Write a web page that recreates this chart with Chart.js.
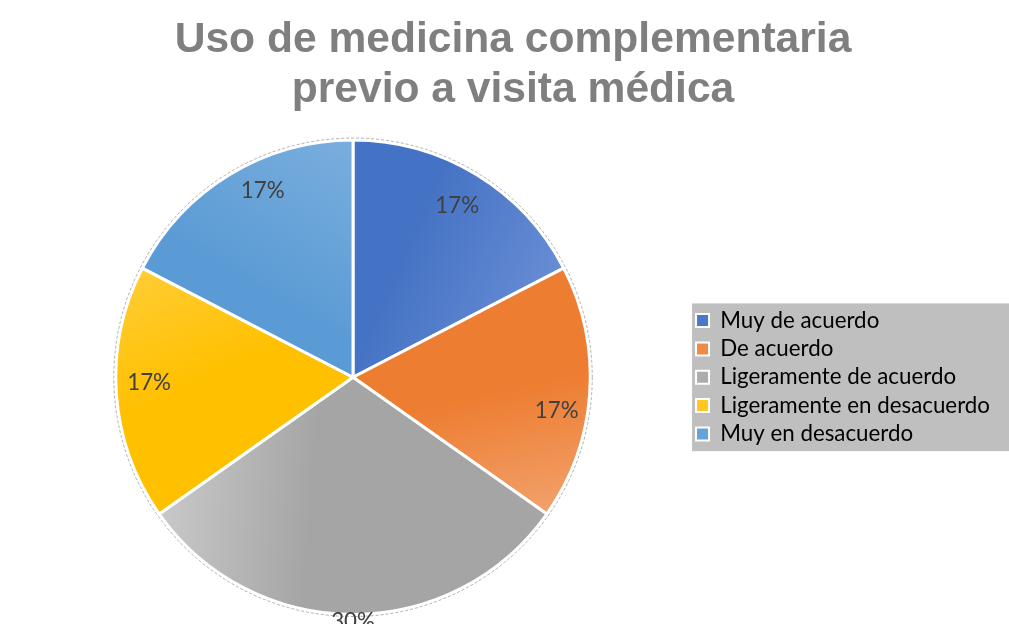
<!DOCTYPE html>
<html>
<head>
<meta charset="utf-8">
<script src="https://cdn.jsdelivr.net/npm/chart.js@4.4.1/dist/chart.umd.min.js"></script>
<style>
  html, body { margin: 0; padding: 0; background: #ffffff; }
  #wrap { width: 1009px; height: 624px; position: relative; }
</style>
</head>
<body>
<div id="wrap"><canvas id="c" width="1009" height="624"></canvas></div>
<script>
// ---- data ----
const titleLines = ['Uso de medicina complementaria', 'previo a visita médica'];
const categories = ['Muy de acuerdo', 'De acuerdo', 'Ligeramente de acuerdo', 'Ligeramente en desacuerdo', 'Muy en desacuerdo'];
const values = [4, 4, 7, 4, 4];

// ---- styles ----
const baseColors  = ['#4472C4', '#ED7D31', '#A5A5A5', '#FFC000', '#5B9BD5'];
const lightColors = ['#6C90D6', '#F2A36F', '#C9C9C9', '#FFCD33', '#78ADDD'];
const legendColors = ['#4C78C8', '#F08A47', '#ADADAD', '#FFC71F', '#66A3D8'];
// gradient endpoints as fractions of radius (from center): [x0,y0,x1,y1]
const gradDirs = [
  [0.25, -0.65, 0.92, -0.35],
  [0.65, 0.05, 0.78, 0.62],
  [-0.18, 0.6, -0.82, 0.55],
  [-0.6, 0.0, -0.82, -0.48],
  [-0.35, -0.35, 0.0, -0.95]
];
// label placement (best-fit style): radius fraction and angular shift in degrees
const labelRadius = [0.845, 0.87, 1.03, 0.86, 0.875];
const labelShift = [0, 5.5, 0, 2.3, 5.5];
const titleShiftX = 5;

function fitSize(text, family, weight, target, probe) {
  const cv = document.createElement('canvas').getContext('2d');
  cv.font = weight + ' ' + probe + 'px ' + family;
  return probe * target / cv.measureText(text).width;
}
const bodyFamily = 'Lato';
const bodySize = fitSize('Ligeramente en desacuerdo', bodyFamily, 'normal', 270, 20);
const titleFamily = '"Liberation Sans", Arial, sans-serif';
const titleSize = fitSize(titleLines[0], titleFamily, 'bold', 677, 40);

function pieGeom(chart) {
  const meta = chart.getDatasetMeta(0);
  const a = meta.data[0];
  if (a && a.outerRadius) return {cx: a.x, cy: a.y, R: a.outerRadius};
  const ca = chart.chartArea;
  return {cx: (ca.left + ca.right) / 2, cy: (ca.top + ca.bottom) / 2, R: Math.min(ca.width, ca.height) / 2};
}

const titleNudge = {
  id: 'titleNudge',
  afterLayout(chart) {
    if (chart.titleBlock) {
      chart.titleBlock.left += titleShiftX;
      chart.titleBlock.right += titleShiftX;
    }
  }
};

const legendBg = {
  id: 'legendBg',
  beforeDraw(chart) {
    const lg = chart.legend;
    if (!lg || !lg.legendHitBoxes || !lg.legendHitBoxes.length) return;
    const hb = lg.legendHitBoxes;
    const top = hb[0].top - 6;
    const bottom = hb[hb.length - 1].top + hb[hb.length - 1].height + 6;
    const ctx = chart.ctx;
    ctx.save();
    ctx.fillStyle = '#BFBFBF';
    ctx.fillRect(lg.left + 2, top, chart.width - lg.left - 2, bottom - top);
    ctx.restore();
  }
};

const pieDecor = {
  id: 'pieDecor',
  afterDatasetsDraw(chart) {
    const ctx = chart.ctx;
    const g = pieGeom(chart);
    ctx.save();
    ctx.setLineDash([3, 2]);
    ctx.strokeStyle = '#B0B0B0';
    ctx.lineWidth = 1;
    ctx.beginPath();
    ctx.arc(g.cx, g.cy, g.R + 2, 0, Math.PI * 2);
    ctx.stroke();
    ctx.setLineDash([]);
    const total = values.reduce((s, v) => s + v, 0);
    const meta = chart.getDatasetMeta(0);
    ctx.font = bodySize + 'px ' + bodyFamily;
    ctx.fillStyle = '#404040';
    ctx.textAlign = 'center';
    ctx.textBaseline = 'middle';
    meta.data.forEach((arc, i) => {
      const mid = (arc.startAngle + arc.endAngle) / 2 + labelShift[i] * Math.PI / 180;
      const r = arc.outerRadius * labelRadius[i];
      const x = arc.x + Math.cos(mid) * r;
      const y = arc.y + Math.sin(mid) * r;
      ctx.fillText(Math.round(values[i] / total * 100) + '%', x, y);
    });
    ctx.restore();
  }
};

new Chart(document.getElementById('c'), {
  type: 'pie',
  data: {
    labels: categories,
    datasets: [{
      data: values,
      backgroundColor(c) {
        const chart = c.chart;
        if (!chart.chartArea) return baseColors[c.dataIndex];
        const g = pieGeom(chart);
        const d = gradDirs[c.dataIndex];
        const grad = chart.ctx.createLinearGradient(g.cx + d[0] * g.R, g.cy + d[1] * g.R, g.cx + d[2] * g.R, g.cy + d[3] * g.R);
        grad.addColorStop(0, baseColors[c.dataIndex]);
        grad.addColorStop(1, lightColors[c.dataIndex]);
        return grad;
      },
      borderColor: '#FFFFFF',
      borderWidth: 3,
      hoverOffset: 0
    }]
  },
  options: {
    responsive: false,
    animation: false,
    events: [],
    layout: { padding: { left: 16, right: 9, top: 0, bottom: 8 } },
    plugins: {
      tooltip: { enabled: false },
      title: {
        display: true,
        text: titleLines,
        color: '#7F7F7F',
        font: { family: titleFamily, weight: 'bold', size: titleSize, lineHeight: 1.18 },
        padding: { top: 15, bottom: 23 }
      },
      legend: {
        position: 'right',
        align: 'center',
        fullSize: false,
        labels: {
          color: '#555555',
          font: { family: bodyFamily, size: bodySize },
          boxWidth: 13,
          boxHeight: 13,
          padding: 6,
          generateLabels(chart) {
            return categories.map((t, i) => ({
              text: t,
              fillStyle: legendColors[i],
              strokeStyle: '#FFFFFF',
              lineWidth: 2,
              hidden: false,
              index: i
            }));
          }
        }
      }
    }
  },
  plugins: [titleNudge, legendBg, pieDecor]
});
</script>
</body>
</html>
